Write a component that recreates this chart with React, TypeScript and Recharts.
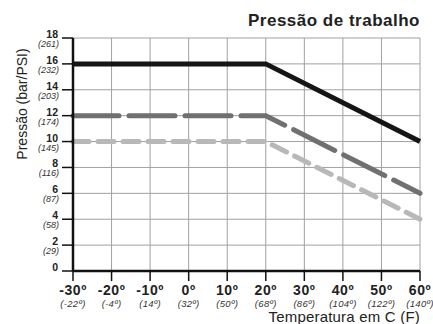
import React from 'react';
import { LineChart, Line, XAxis, YAxis, CartesianGrid } from 'recharts';

document.body.style.margin = '0';

const FONT = '"Liberation Sans", Arial, sans-serif';

// temperatures (C) where the curves bend
const temps = [-30, 20, 60];
const maxPressure = [16, 16, 10];
const midPressure = [12, 12, 6];
const lowPressure = [10, 10, 4];

const tempTicks = [-30, -20, -10, 0, 10, 20, 30, 40, 50, 60];
const fahrenheitLabels = ['-22º', '-4º', '14º', '32º', '50º', '68º', '86º', '104º', '122º', '140º'];
const pressureTicks = [0, 2, 4, 6, 8, 10, 12, 14, 16, 18];
const psiLabels = ['', '29', '58', '87', '116', '145', '174', '203', '232', '261'];

const data = temps.map((t, i) => ({
  temp: t,
  high: maxPressure[i],
  mid: midPressure[i],
  low: lowPressure[i],
}));

const XTick = (props: any) => {
  const { x, y, payload } = props;
  const i = tempTicks.indexOf(payload.value);
  return (
    <g>
      <text x={x} y={y + 12} textAnchor="middle" fontFamily={FONT} fontWeight="bold" fontSize={14} letterSpacing={0.6} fill="#222">
        {`${payload.value}º`}
      </text>
      <text x={x} y={y + 24} textAnchor="middle" fontFamily={FONT} fontStyle="italic" fontSize={9.5} letterSpacing={0.3} fill="#333">
        {`(${fahrenheitLabels[i]})`}
      </text>
    </g>
  );
};

const YTick = (props: any) => {
  const { x, y, payload } = props;
  const i = pressureTicks.indexOf(payload.value);
  return (
    <g>
      <text x={x} y={y} textAnchor="end" fontFamily={FONT} fontWeight="bold" fontSize={10.5} fill="#222">
        {payload.value}
      </text>
      {psiLabels[i] && (
        <text x={x + 1} y={y + 9} textAnchor="end" fontFamily={FONT} fontStyle="italic" fontSize={9} fill="#333">
          {`(${psiLabels[i]})`}
        </text>
      )}
    </g>
  );
};

export default function App() {
  return (
    <div style={{ position: 'relative', width: 433, height: 324, background: '#fff', overflow: 'hidden' }}>
      <LineChart width={433} height={324} data={data} margin={{ top: 38, right: 13, left: 0, bottom: 0 }}>
        <CartesianGrid stroke="#a0a0a0" strokeWidth={1} />
        <XAxis
          dataKey="temp"
          type="number"
          domain={[-30, 60]}
          ticks={tempTicks}
          height={53}
          tickSize={10}
          tickMargin={2}
          axisLine={{ stroke: '#111', strokeWidth: 2.5 }}
          tickLine={{ stroke: '#111', strokeWidth: 1.5 }}
          tick={<XTick />}
          interval={0}
        />
        <YAxis
          type="number"
          domain={[0, 18]}
          ticks={pressureTicks}
          width={73}
          tickSize={11}
          tickMargin={4}
          axisLine={{ stroke: '#111', strokeWidth: 2.5 }}
          tickLine={{ stroke: '#111', strokeWidth: 1.5 }}
          tick={<YTick />}
          interval={0}
        />
        <Line type="linear" dataKey="low" stroke="#b8b8b8" strokeWidth={5} strokeLinecap="round" strokeDasharray="16 9" dot={false} isAnimationActive={false} />
        <Line type="linear" dataKey="mid" stroke="#707070" strokeWidth={5} strokeLinecap="round" strokeDasharray="46 10" dot={false} isAnimationActive={false} />
        <Line type="linear" dataKey="high" stroke="#151515" strokeWidth={5} dot={false} isAnimationActive={false} />
      </LineChart>
      <svg width={433} height={324} style={{ position: 'absolute', left: 0, top: 0, pointerEvents: 'none' }}>
        <text x={420} y={26} textAnchor="end" fontFamily={FONT} fontWeight="bold" fontSize={17} letterSpacing={0.5} fill="#222">
          Pressão de trabalho
        </text>
        <text transform="translate(27,104) rotate(-90)" textAnchor="middle" fontFamily={FONT} fontSize={14} fill="#222">
          Pressão (bar/PSI)
        </text>
        <text x={420} y={322} textAnchor="end" fontFamily={FONT} fontSize={15} letterSpacing={0.2} fill="#222">
          Temperatura em C (F)
        </text>
      </svg>
    </div>
  );
}
